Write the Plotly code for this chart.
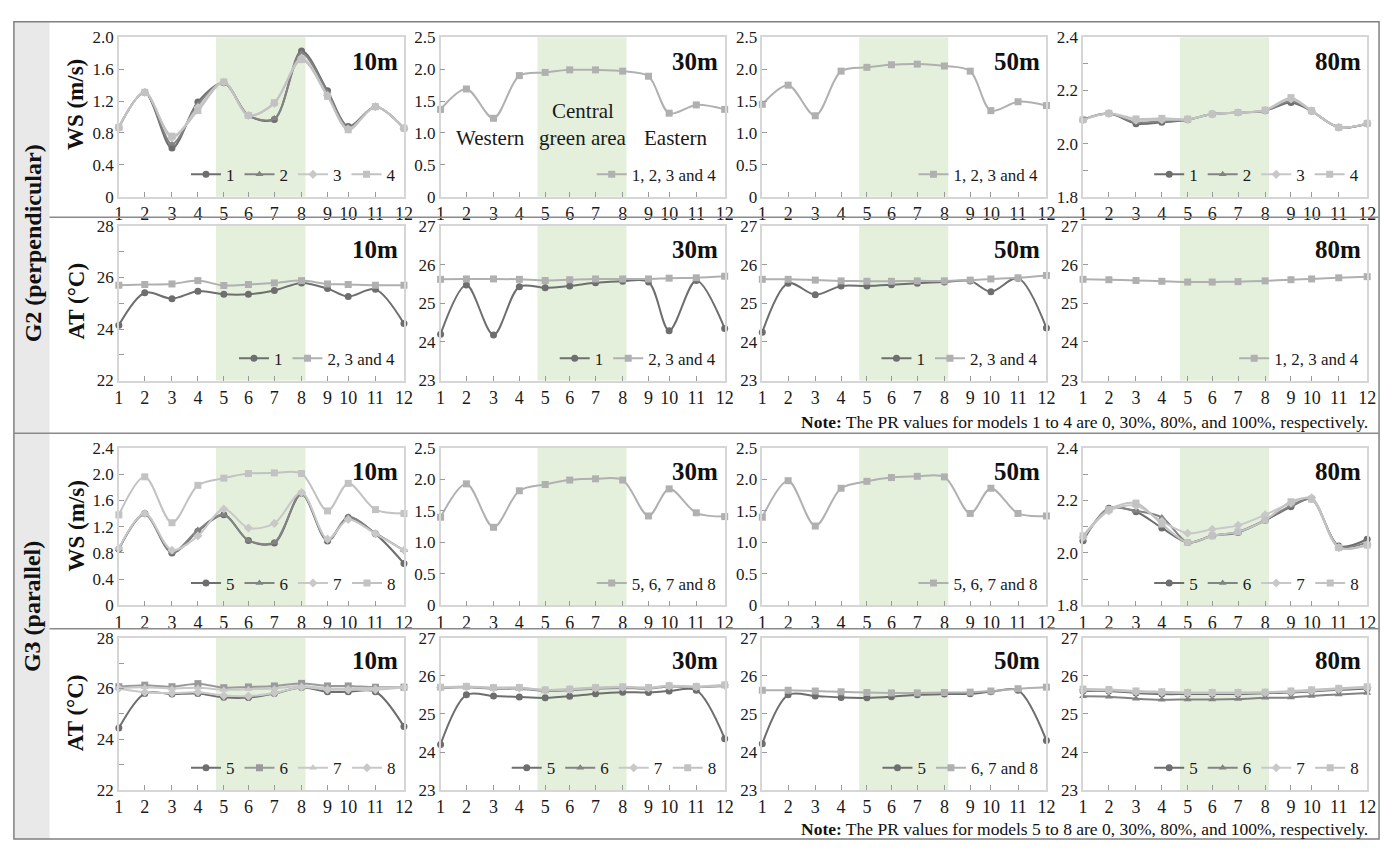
import plotly.graph_objects as go

W, H = 1392, 850
FONT = "Liberation Serif"

# ---------------- data ----------------
STATIONS = ["1", "2", "3", "4", "5", "6", "7", "8", "9", "10", "11", "12"]
STATION_X = [1, 2.0, 3.05, 4.05, 5.05, 6.0, 7.0, 8.05, 9.05, 9.85, 10.9, 12]
GREEN_ZONE = [4.75, 8.2]
HEIGHTS = ["10m", "30m", "50m", "80m"]

# G2 (perpendicular) wind speed
g2_ws10_m1 = [0.87, 1.31, 0.61, 1.19, 1.43, 1.02, 0.97, 1.83, 1.33, 0.88, 1.13, 0.86]
g2_ws10_m2 = [0.87, 1.31, 0.66, 1.16, 1.43, 1.02, 0.98, 1.80, 1.31, 0.87, 1.13, 0.86]
g2_ws10_m3 = [0.87, 1.31, 0.74, 1.12, 1.44, 1.02, 1.17, 1.74, 1.27, 0.85, 1.13, 0.86]
g2_ws10_m4 = [0.87, 1.31, 0.76, 1.08, 1.44, 1.02, 1.18, 1.72, 1.26, 0.84, 1.13, 0.86]
g2_ws30_all = [1.37, 1.69, 1.23, 1.90, 1.95, 1.99, 1.99, 1.97, 1.89, 1.31, 1.44, 1.37]
g2_ws50_all = [1.45, 1.75, 1.27, 1.97, 2.03, 2.07, 2.08, 2.05, 1.97, 1.35, 1.49, 1.43]
g2_ws80_m1 = [2.090, 2.114, 2.075, 2.080, 2.090, 2.111, 2.117, 2.124, 2.155, 2.122, 2.061, 2.075]
g2_ws80_m2 = [2.090, 2.113, 2.080, 2.085, 2.090, 2.111, 2.117, 2.124, 2.160, 2.122, 2.061, 2.075]
g2_ws80_m3 = [2.090, 2.113, 2.088, 2.090, 2.091, 2.111, 2.117, 2.125, 2.168, 2.123, 2.061, 2.076]
g2_ws80_m4 = [2.090, 2.114, 2.093, 2.095, 2.092, 2.111, 2.117, 2.126, 2.173, 2.124, 2.061, 2.076]

# G2 (perpendicular) air temperature
g2_at10_m1 = [24.15, 25.41, 25.18, 25.47, 25.35, 25.35, 25.50, 25.79, 25.57, 25.26, 25.54, 24.21]
g2_at10_m234 = [25.70, 25.73, 25.75, 25.88, 25.69, 25.73, 25.79, 25.88, 25.75, 25.73, 25.70, 25.70]
g2_at30_m1 = [24.20, 25.47, 24.18, 25.43, 25.40, 25.45, 25.53, 25.57, 25.55, 24.29, 25.59, 24.35]
g2_at30_m234 = [25.62, 25.63, 25.63, 25.62, 25.59, 25.61, 25.63, 25.63, 25.63, 25.65, 25.66, 25.70]
g2_at50_m1 = [24.25, 25.52, 25.22, 25.45, 25.45, 25.48, 25.52, 25.55, 25.58, 25.30, 25.65, 24.36]
g2_at50_m234 = [25.62, 25.62, 25.60, 25.58, 25.57, 25.57, 25.58, 25.58, 25.60, 25.63, 25.66, 25.72]
g2_at80_all = [25.62, 25.61, 25.59, 25.57, 25.55, 25.55, 25.56, 25.58, 25.61, 25.63, 25.66, 25.69]

# G3 (parallel) wind speed
g3_ws10_m5 = [0.86, 1.40, 0.80, 1.13, 1.38, 0.99, 0.95, 1.71, 0.98, 1.34, 1.09, 0.64]
g3_ws10_m6 = [0.86, 1.39, 0.81, 1.15, 1.38, 0.99, 0.96, 1.70, 0.99, 1.35, 1.10, 0.84]
g3_ws10_m7 = [0.87, 1.40, 0.84, 1.06, 1.47, 1.18, 1.25, 1.72, 1.01, 1.31, 1.09, 0.84]
g3_ws10_m8 = [1.38, 1.96, 1.26, 1.83, 1.94, 2.01, 2.02, 2.01, 1.44, 1.86, 1.46, 1.40]
g3_ws30_all = [1.40, 1.93, 1.24, 1.82, 1.92, 1.99, 2.01, 1.99, 1.42, 1.85, 1.47, 1.41]
g3_ws50_all = [1.40, 1.98, 1.26, 1.86, 1.97, 2.03, 2.05, 2.04, 1.46, 1.86, 1.46, 1.42]
g3_ws80_m5 = [2.046, 2.170, 2.157, 2.095, 2.040, 2.065, 2.078, 2.124, 2.176, 2.205, 2.026, 2.052]
g3_ws80_m6 = [2.050, 2.170, 2.160, 2.135, 2.040, 2.065, 2.080, 2.125, 2.180, 2.205, 2.025, 2.040]
g3_ws80_m7 = [2.060, 2.160, 2.180, 2.120, 2.075, 2.090, 2.105, 2.145, 2.190, 2.210, 2.020, 2.030]
g3_ws80_m8 = [2.065, 2.165, 2.190, 2.110, 2.040, 2.065, 2.080, 2.125, 2.195, 2.205, 2.020, 2.030]

# G3 (parallel) air temperature
g3_at10_m5 = [24.44, 25.80, 25.78, 25.80, 25.65, 25.64, 25.80, 26.04, 25.87, 25.87, 25.87, 24.50]
g3_at10_m6 = [26.07, 26.13, 26.07, 26.19, 26.03, 26.06, 26.10, 26.20, 26.10, 26.10, 26.05, 26.05]
g3_at10_m7 = [26.02, 26.05, 26.00, 26.03, 25.95, 25.97, 26.00, 26.10, 26.00, 26.00, 26.02, 26.05]
g3_at10_m8 = [26.00, 25.85, 25.82, 25.85, 25.72, 25.70, 25.82, 26.05, 25.95, 25.95, 25.95, 26.05]
g3_at30_m5 = [24.20, 25.50, 25.47, 25.44, 25.42, 25.46, 25.53, 25.57, 25.56, 25.60, 25.62, 24.35]
g3_at30_m6 = [25.68, 25.70, 25.66, 25.66, 25.60, 25.62, 25.66, 25.68, 25.66, 25.72, 25.70, 25.73]
g3_at30_m7 = [25.69, 25.71, 25.68, 25.68, 25.62, 25.64, 25.68, 25.70, 25.68, 25.73, 25.71, 25.75]
g3_at30_m8 = [25.70, 25.72, 25.69, 25.69, 25.63, 25.65, 25.69, 25.71, 25.69, 25.74, 25.72, 25.76]
g3_at50_m5 = [24.22, 25.50, 25.47, 25.43, 25.42, 25.45, 25.50, 25.52, 25.53, 25.58, 25.62, 24.30]
g3_at50_m678 = [25.62, 25.62, 25.60, 25.58, 25.56, 25.55, 25.55, 25.56, 25.57, 25.60, 25.66, 25.70]
g3_at80_m5 = [25.60, 25.60, 25.55, 25.52, 25.52, 25.52, 25.52, 25.54, 25.56, 25.59, 25.63, 25.66]
g3_at80_m6 = [25.46, 25.45, 25.40, 25.37, 25.38, 25.38, 25.39, 25.42, 25.43, 25.47, 25.51, 25.55]
g3_at80_m7 = [25.63, 25.62, 25.58, 25.56, 25.55, 25.55, 25.55, 25.56, 25.58, 25.61, 25.65, 25.69]
g3_at80_m8 = [25.65, 25.64, 25.60, 25.58, 25.56, 25.56, 25.56, 25.57, 25.60, 25.63, 25.67, 25.71]

# ---------------- styles / layout ----------------
STYLE = {
    "c": dict(symbol="circle", color="#6e6e6e"),
    "t": dict(symbol="triangle-up", color="#838383"),
    "d": dict(symbol="diamond", color="#c8c8c8"),
    "s": dict(symbol="square", color="#c2c2c2"),
    "S": dict(symbol="square", color="#b0b0b0"),
    "m": dict(symbol="square", color="#9a9a9a"),
    "l": dict(symbol="triangle-up", color="#c8c8c8"),
    "D": dict(symbol="diamond", color="#c8c8c8"),
}

WS10 = ([0, 0.4, 0.8, 1.2, 1.6, 2.0], ["0", "0.4", "0.8", "1.2", "1.6", "2.0"])
WS10B = ([0, 0.4, 0.8, 1.2, 1.6, 2.0, 2.4], ["0", "0.4", "0.8", "1.2", "1.6", "2.0", "2.4"])
WS25 = ([0, 0.5, 1.0, 1.5, 2.0, 2.5], ["0", "0.5", "1.0", "1.5", "2.0", "2.5"])
WS80 = ([1.8, 1.9, 2.0, 2.1, 2.2, 2.3, 2.4], ["1.8", "", "2.0", "", "2.2", "", "2.4"])
AT28 = ([22, 23, 24, 25, 26, 27, 28], ["22", "", "24", "", "26", "", "28"])
AT27 = ([23, 24, 25, 26, 27], ["23", "24", "25", "26", "27"])

PANELS = [
    # row 0: G2 WS
    dict(r=0, c=0, yr=[0, 2.0], yt=WS10, series=[("1", g2_ws10_m1, "c"), ("2", g2_ws10_m2, "t"),
                                                ("3", g2_ws10_m3, "d"), ("4", g2_ws10_m4, "s")]),
    dict(r=0, c=1, yr=[0, 2.5], yt=WS25, series=[("1, 2, 3 and 4", g2_ws30_all, "S")]),
    dict(r=0, c=2, yr=[0, 2.5], yt=WS25, series=[("1, 2, 3 and 4", g2_ws50_all, "S")]),
    dict(r=0, c=3, yr=[1.8, 2.4], yt=WS80, series=[("1", g2_ws80_m1, "c"), ("2", g2_ws80_m2, "t"),
                                                  ("3", g2_ws80_m3, "d"), ("4", g2_ws80_m4, "s")]),
    # row 1: G2 AT
    dict(r=1, c=0, yr=[22, 28], yt=AT28, series=[("1", g2_at10_m1, "c"), ("2, 3 and 4", g2_at10_m234, "S")]),
    dict(r=1, c=1, yr=[23, 27], yt=AT27, series=[("1", g2_at30_m1, "c"), ("2, 3 and 4", g2_at30_m234, "S")]),
    dict(r=1, c=2, yr=[23, 27], yt=AT27, series=[("1", g2_at50_m1, "c"), ("2, 3 and 4", g2_at50_m234, "S")]),
    dict(r=1, c=3, yr=[23, 27], yt=AT27, series=[("1, 2, 3 and 4", g2_at80_all, "S")]),
    # row 2: G3 WS
    dict(r=2, c=0, yr=[0, 2.4], yt=WS10B, series=[("5", g3_ws10_m5, "c"), ("6", g3_ws10_m6, "t"),
                                                 ("7", g3_ws10_m7, "d"), ("8", g3_ws10_m8, "s")]),
    dict(r=2, c=1, yr=[0, 2.5], yt=WS25, series=[("5, 6, 7 and 8", g3_ws30_all, "S")]),
    dict(r=2, c=2, yr=[0, 2.5], yt=WS25, series=[("5, 6, 7 and 8", g3_ws50_all, "S")]),
    dict(r=2, c=3, yr=[1.8, 2.4], yt=WS80, series=[("5", g3_ws80_m5, "c"), ("6", g3_ws80_m6, "t"),
                                                  ("7", g3_ws80_m7, "d"), ("8", g3_ws80_m8, "s")]),
    # row 3: G3 AT
    dict(r=3, c=0, yr=[22, 28], yt=AT28, series=[("5", g3_at10_m5, "c"), ("6", g3_at10_m6, "m"),
                                                ("7", g3_at10_m7, "l"), ("8", g3_at10_m8, "D")]),
    dict(r=3, c=1, yr=[23, 27], yt=AT27, series=[("5", g3_at30_m5, "c"), ("6", g3_at30_m6, "t"),
                                                ("7", g3_at30_m7, "d"), ("8", g3_at30_m8, "s")]),
    dict(r=3, c=2, yr=[23, 27], yt=AT27, series=[("5", g3_at50_m5, "c"), ("6, 7 and 8", g3_at50_m678, "S")]),
    dict(r=3, c=3, yr=[23, 27], yt=AT27, series=[("5", g3_at80_m5, "c"), ("6", g3_at80_m6, "t"),
                                                ("7", g3_at80_m7, "d"), ("8", g3_at80_m8, "s")]),
]

COLS = [(115, 403), (440, 727), (765, 1052), (1089, 1376)]
ROWS = [(29, 192), (222, 380), (449, 610), (643, 799)]


def px(x):
    return x / W


def py(y):
    return 1 - y / H


fig = go.Figure()
layout = dict(
    width=W, height=H, autosize=False,
    margin=dict(l=0, r=0, t=0, b=0),
    paper_bgcolor="white", plot_bgcolor="white",
    font=dict(family=FONT, color="#1a1a1a"),
    showlegend=True,
)
shapes = []
annotations = []

for i, p in enumerate(PANELS):
    n = i + 1
    xs = "" if n == 1 else str(n)
    leg = "legend" if n == 1 else f"legend{n}"
    x0, x1 = COLS[p["c"]]
    y0, y1 = ROWS[p["r"]]
    for name, vals, st in p["series"]:
        s = STYLE[st]
        fig.add_trace(go.Scatter(
            x=STATION_X, y=vals, name=name, mode="lines+markers",
            line=dict(color=s["color"], width=2, shape="spline", smoothing=0.9),
            marker=dict(symbol=s["symbol"], size=7, color=s["color"]),
            xaxis="x" + xs, yaxis="y" + xs, legend=leg, cliponaxis=False,
        ))
    layout["xaxis" + xs] = dict(
        domain=[px(x0), px(x1)], anchor="y" + xs, range=[1, 12],
        tickmode="array", tickvals=STATION_X, ticktext=STATIONS,
        ticks="inside", ticklen=5, tickcolor="#9a9a9a", tickwidth=1,
        showline=True, mirror=True, linecolor="#d6d6d6", linewidth=1.5,
        showgrid=False, zeroline=False,
        tickfont=dict(family=FONT, size=18, color="#1a1a1a"),
    )
    layout["yaxis" + xs] = dict(
        domain=[py(y1), py(y0)], anchor="x" + xs, range=p["yr"],
        tickmode="array", tickvals=p["yt"][0], ticktext=p["yt"][1],
        ticks="inside", ticklen=5, tickcolor="#9a9a9a", tickwidth=1,
        showline=True, mirror=True, linecolor="#d6d6d6", linewidth=1.5,
        showgrid=False, zeroline=False,
        tickfont=dict(family=FONT, size=17, color="#1a1a1a"),
    )
    layout[leg] = dict(
        orientation="h", xanchor="right", yanchor="bottom",
        x=px(x1 - 3), y=py(y1 - 4),
        bgcolor="rgba(0,0,0,0)", borderwidth=0,
        font=dict(family=FONT, size=17, color="#1a1a1a"),
        itemwidth=30, tracegroupgap=0,
    )
    shapes.append(dict(type="rect", xref="x" + xs, yref=f"y{xs} domain",
                       x0=GREEN_ZONE[0], x1=GREEN_ZONE[1], y0=0, y1=1,
                       fillcolor="#e4f0dc", line=dict(width=0), layer="below"))
    annotations.append(dict(text="<b>" + HEIGHTS[p["c"]] + "</b>", xref=f"x{xs} domain", yref=f"y{xs} domain",
                            x=0.985, y=0.85, xanchor="right", yanchor="middle", showarrow=False,
                            font=dict(family=FONT, size=25, color="#111")))

# region labels in G2 WS 30m panel
for txt, xv, yv in [("Western", 2.95, 0.92), ("Central", 6.5, 1.34), ("green area", 6.5, 0.92), ("Eastern", 10.1, 0.92)]:
    annotations.append(dict(text=txt, xref="x2", yref="y2", x=xv, y=yv, showarrow=False,
                            font=dict(family=FONT, size=21, color="#1a1a1a")))

# frame and side strip
shapes += [
    dict(type="rect", xref="paper", yref="paper", x0=px(9), x1=px(45), y0=py(849), y1=py(13),
         fillcolor="#e9e9e9", line=dict(width=0), layer="below"),
    dict(type="rect", xref="paper", yref="paper", x0=px(9), x1=px(1388), y0=py(849), y1=py(13),
         line=dict(color="#808080", width=1.5)),
    dict(type="line", xref="paper", yref="paper", x0=px(45), x1=px(1388), y0=py(213), y1=py(213),
         line=dict(color="#8a8a8a", width=1.5)),
    dict(type="line", xref="paper", yref="paper", x0=px(9), x1=px(1388), y0=py(434), y1=py(434),
         line=dict(color="#8a8a8a", width=1.5)),
    dict(type="line", xref="paper", yref="paper", x0=px(45), x1=px(1388), y0=py(634), y1=py(634),
         line=dict(color="#8a8a8a", width=1.5)),
]

# group labels
for txt, yc in [("G2 (perpendicular)", 240), ("G3 (parallel)", 611)]:
    annotations.append(dict(text="<b>" + txt + "</b>", xref="paper", yref="paper", x=px(28), y=py(yc),
                            textangle=-90, showarrow=False, xanchor="center", yanchor="middle",
                            font=dict(family=FONT, size=24, color="#111")))
# y-axis titles
for txt, yc in [("WS (m/s)", 98), ("AT (°C)", 299), ("WS (m/s)", 529), ("AT (°C)", 720)]:
    annotations.append(dict(text="<b>" + txt + "</b>", xref="paper", yref="paper", x=px(72), y=py(yc),
                            textangle=-90, showarrow=False, xanchor="center", yanchor="middle",
                            font=dict(family=FONT, size=23, color="#111")))
# notes
for txt, yc in [("models 1 to 4", 422), ("models 5 to 8", 839)]:
    annotations.append(dict(
        text="<b>Note:</b> The PR values for " + txt + " are 0, 30%, 80%, and 100%, respectively.",
        xref="paper", yref="paper", x=px(1379), y=py(yc), xanchor="right", yanchor="middle",
        showarrow=False, font=dict(family=FONT, size=17.5, color="#111")))

layout["shapes"] = shapes
layout["annotations"] = annotations
fig.update_layout(**layout)

fig.write_html("out.html", config={"displayModeBar": False},
               post_script="document.body.style.margin='0';")
